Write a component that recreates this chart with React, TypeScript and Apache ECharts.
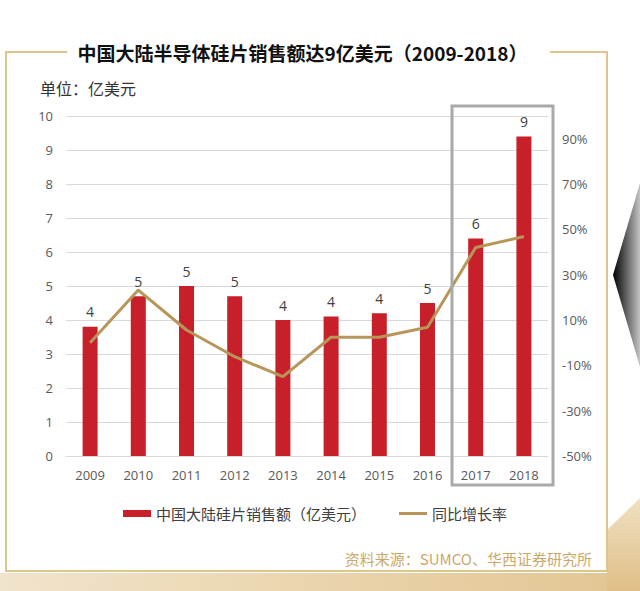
import React, { useEffect, useRef } from "react";
import * as echarts from "echarts";

const categories = ["2009", "2010", "2011", "2012", "2013", "2014", "2015", "2016", "2017", "2018"];
const salesValues = [3.8, 4.7, 5.0, 4.7, 4.0, 4.1, 4.2, 4.5, 6.4, 9.4];
const growthValues = [0, 23.2, 5.6, -6.2, -15, 2.4, 2.4, 6.8, 42, 46.8];
const salesName = "中国大陆硅片销售额（亿美元）";
const growthName = "同比增长率";
const titleText = "中国大陆半导体硅片销售额达9亿美元（2009-2018）";
const unitText = "单位：亿美元";
const sourceText = "资料来源：SUMCO、华西证券研究所";

const CJK = "'Noto Sans CJK SC', 'Noto Sans', sans-serif";
const NUM = "'Open Sans', 'Noto Sans', sans-serif";
const FRAME = "#DEC48E";

export default function App() {
  const ref = useRef<HTMLDivElement>(null);
  useEffect(() => {
    if (!ref.current) return;
    const chart = echarts.init(ref.current, null, { renderer: "svg" });
    chart.setOption({
      animation: false,
      backgroundColor: "#ffffff",
      grid: { left: 66, right: 92, top: 116, bottom: 135, containLabel: false },
      legend: {
        left: 118,
        top: 501,
        itemWidth: 28,
        itemHeight: 7,
        itemGap: 33,
        symbolKeepAspect: true,
        textStyle: { fontFamily: CJK, fontSize: 15, color: "#404040" },
        data: [
          { name: salesName, icon: "rect" },
          { name: growthName, icon: "path://M0,0 L28,0 L28,3 L0,3 Z" },
        ],
      },
      xAxis: {
        type: "category",
        data: categories,
        axisTick: { show: false },
        axisLine: { show: true, lineStyle: { color: "#d9d9d9", width: 1 } },
        axisLabel: { color: "#595959", fontFamily: NUM, fontSize: 13, margin: 12 },
      },
      yAxis: [
        {
          type: "value",
          min: 0,
          max: 10,
          interval: 1,
          axisLine: { show: false },
          axisTick: { show: false },
          splitLine: { lineStyle: { color: "#d9d9d9", width: 1 } },
          axisLabel: { color: "#595959", fontFamily: NUM, fontSize: 13, margin: 13 },
        },
        {
          type: "value",
          min: -50,
          max: 100,
          interval: 20,
          axisLine: { show: false },
          axisTick: { show: false },
          splitLine: { show: false },
          axisLabel: {
            color: "#595959",
            fontFamily: NUM,
            fontSize: 13,
            margin: 14,
            showMaxLabel: false,
            formatter: (v: number) => (v >= 100 ? "" : v + "%"),
          },
        },
      ],
      series: [
        {
          name: salesName,
          type: "bar",
          data: salesValues,
          barWidth: 15,
          itemStyle: { color: "#C8202A" },
          label: {
            show: true,
            position: "top",
            distance: 8,
            color: "#404040",
            fontFamily: NUM,
            fontSize: 14,
            formatter: (p: any) => String(Math.round(p.value)),
          },
        },
        {
          name: growthName,
          type: "line",
          yAxisIndex: 1,
          data: growthValues,
          symbol: "none",
          lineStyle: { color: "#B8965A", width: 3 },
          itemStyle: { color: "#B8965A" },
        },
      ],
      graphic: [
        {
          type: "polygon",
          silent: true,
          z: -10,
          shape: { points: [[613, 275], [640, 183], [640, 367]] },
          style: {
            fill: new echarts.graphic.LinearGradient(0, 0, 1, 0, [
              { offset: 0, color: "#000000" },
              { offset: 1, color: "#c4c4c4" },
            ]),
          },
        },
        {
          type: "polygon",
          silent: true,
          z: -10,
          shape: { points: [[0, 573], [640, 573], [640, 591], [0, 591]] },
          style: {
            fill: new echarts.graphic.LinearGradient(0, 0, 1, 0, [
              { offset: 0, color: "#f1e4cc" },
              { offset: 0.5, color: "#ead4ac" },
              { offset: 1, color: "#e2c592" },
            ]),
          },
        },
        {
          type: "polygon",
          silent: true,
          z: -10,
          shape: { points: [[607, 530], [640, 498], [640, 591], [607, 591]] },
          style: {
            fill: new echarts.graphic.LinearGradient(0, 0, 0, 1, [
              { offset: 0, color: "#f0e0c2" },
              { offset: 1, color: "#dfbf88" },
            ]),
          },
        },
        {
          type: "polyline",
          silent: true,
          shape: { points: [[67, 52], [6, 52], [6, 571], [607, 571], [607, 52], [550, 52]] },
          style: { stroke: FRAME, lineWidth: 2, fill: "none" },
        },
        {
          type: "text",
          x: 302.5,
          y: 52,
          style: {
            text: titleText,
            fontFamily: CJK,
            fontSize: 19,
            fontWeight: "bold",
            fill: "#111111",
            textAlign: "center",
            textVerticalAlign: "middle",
          },
        },
        {
          type: "text",
          x: 40,
          y: 88,
          style: {
            text: unitText,
            fontFamily: CJK,
            fontSize: 16,
            fill: "#333333",
            textAlign: "left",
            textVerticalAlign: "middle",
          },
        },
        {
          type: "text",
          x: 592,
          y: 558,
          style: {
            text: sourceText,
            fontFamily: CJK,
            fontSize: 15,
            fill: "#C9A86A",
            textAlign: "right",
            textVerticalAlign: "middle",
          },
        },
        {
          type: "rect",
          silent: true,
          z: 100,
          shape: { x: 452, y: 106, width: 101, height: 379 },
          style: { stroke: "#a9a9a9", lineWidth: 3, fill: "none" },
        },
      ],
    });
    return () => chart.dispose();
  }, []);
  return (
    <div
      ref={ref}
      style={{ position: "absolute", left: 0, top: 0, width: 640, height: 591 }}
    />
  );
}
